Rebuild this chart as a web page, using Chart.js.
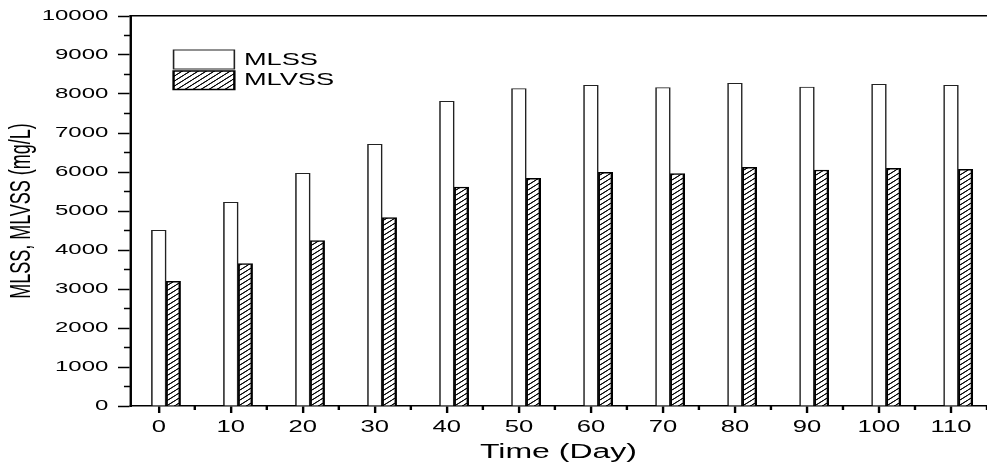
<!DOCTYPE html>
<html>
<head>
<meta charset="utf-8">
<script src="https://cdn.jsdelivr.net/npm/chart.js@4.4.0/dist/chart.umd.min.js"></script>
<style>
  html, body { margin: 0; padding: 0; background: #fff; }
  #wrap { width: 987px; height: 468px; overflow: hidden; }
  canvas { display: block; }
</style>
</head>
<body>
<div id="wrap"><canvas id="solidsChart" width="617" height="468"></canvas></div>
<script>
const days = [0, 10, 20, 30, 40, 50, 60, 70, 80, 90, 100, 110];
const mlss = [4505, 5223, 5966, 6710, 7813, 8136, 8222, 8165, 8274, 8180, 8248, 8222];
const mlvss = [3197, 3650, 4240, 4829, 5615, 5838, 5992, 5957, 6120, 6051, 6094, 6068];
const dayTicks = [0, 10, 20, 30, 40, 50, 60, 70, 80, 90, 100, 110];
const solidsTicks = [0, 1000, 2000, 3000, 4000, 5000, 6000, 7000, 8000, 9000, 10000];

// the source figure is stretched sideways, so lay out 617px wide and draw it 1.6x wider
const stretchX = 987 / 617;
const font = "'Liberation Sans', Arial, sans-serif";

function makeHatch() {
  const tile = document.createElement('canvas');
  tile.width = 8; tile.height = 5;
  const t = tile.getContext('2d');
  t.fillStyle = '#fff';
  t.fillRect(0, 0, 8, 5);
  t.strokeStyle = '#000';
  t.lineWidth = 1;
  t.beginPath();
  t.moveTo(-8, 10); t.lineTo(8, 0);
  t.moveTo(0, 5); t.lineTo(16, -5);
  t.moveTo(-8, 5); t.lineTo(8, -5);
  t.moveTo(0, 10); t.lineTo(16, 0);
  t.stroke();
  const p = t.createPattern(tile, 'repeat');
  p.setTransform(new DOMMatrix([1 / stretchX, 0, 0, 1, 0, 0]));
  return p;
}
const hatch = makeHatch();

const stretchPlugin = {
  id: 'stretch',
  afterInit(chart) {
    chart.canvas.width = 987;
    chart.canvas.style.width = '987px';
    chart.canvas.style.height = '468px';
    chart.ctx.setTransform(stretchX, 0, 0, 1, 0, 0);
  }
};

// minor ticks half way between the labelled ones, and the legend in the top left
const extrasPlugin = {
  id: 'extras',
  afterDraw(chart) {
    const ctx = chart.ctx;
    const xs = chart.scales.x, ys = chart.scales.y;
    const area = chart.chartArea;
    ctx.save();
    ctx.strokeStyle = '#000';
    ctx.lineWidth = 1.5;
    ctx.beginPath();
    for (let i = 0; i < dayTicks.length; i++) {
      const px = xs.getPixelForValue(dayTicks[i] + 5);
      if (px > area.right) continue;
      ctx.moveTo(px, area.bottom); ctx.lineTo(px, area.bottom + 4);
    }
    for (let i = 0; i < solidsTicks.length - 1; i++) {
      const py = ys.getPixelForValue(solidsTicks[i] + 500);
      ctx.moveTo(area.left, py); ctx.lineTo(area.left - 3.75, py);
    }
    ctx.stroke();

    const rows = [[50, 19], [71, 18.5]];
    chart.data.datasets.forEach(function(ds, i) {
      const y = rows[i][0], h = rows[i][1];
      ctx.fillStyle = ds.backgroundColor;
      ctx.fillRect(108.5, y, 38, h);
      ctx.strokeStyle = ds.borderColor;
      ctx.lineWidth = ds.borderWidth;
      ctx.strokeRect(108.5, y, 38, h);
      ctx.fillStyle = '#000';
      ctx.font = '17px ' + font;
      ctx.textBaseline = 'middle';
      ctx.textAlign = 'left';
      ctx.fillText(ds.label, 152.5, y + h / 2 + 0.5);
    });
    ctx.restore();
  }
};

const plainLabel = function(value) { return String(value); };

new Chart('solidsChart', {
  type: 'bar',
  data: {
    datasets: [{
      label: 'MLSS',
      data: days.map((d, i) => ({x: d, y: mlss[i]})),
      backgroundColor: '#fff',
      borderColor: '#222',
      borderWidth: 1,
      xAxisID: 'xBar'
    },
    {
      label: 'MLVSS',
      data: days.map((d, i) => ({x: d, y: mlvss[i]})),
      backgroundColor: hatch,
      borderColor: '#000',
      borderWidth: 1.5,
      xAxisID: 'xBar'
    }]
  },
  options: {
    responsive: false,
    maintainAspectRatio: false,
    animation: false,
    devicePixelRatio: 1,
    layout: { padding: { top: 16, right: 0, bottom: 0, left: 0 } },
    plugins: { legend: { display: false }, tooltip: { enabled: false } },
    datasets: { bar: { barThickness: 9 } },
    scales: {
      // bars sit on a hidden copy of the day axis shifted by one day,
      // so MLSS is centred on the tick and MLVSS stands to its right
      xBar: { type: 'linear', display: false, offset: false, min: -5, max: 114 },
      x: {
        type: 'linear',
        offset: false,
        min: -4,
        max: 115,
        afterBuildTicks: function(scale) { scale.ticks = dayTicks.map(v => ({value: v})); },
        afterFit: function(scale) { scale.height = 62; },
        grid: { offset: false, drawOnChartArea: false, tickLength: 7, tickWidth: 1.5, tickColor: '#000' },
        border: { color: '#000', width: 1.5 },
        ticks: { color: '#000', font: { family: font, size: 16 }, padding: 5, maxRotation: 0, autoSkip: false, callback: plainLabel },
        title: { display: true, text: 'Time (Day)', color: '#000', font: { family: font, size: 20 }, padding: { top: 0, bottom: 4 } }
      },
      xTop: {
        type: 'linear',
        position: 'top',
        offset: false,
        min: -4,
        max: 115,
        grid: { offset: false, drawOnChartArea: false, drawTicks: false },
        border: { color: '#000', width: 1.5 },
        ticks: { display: false }
      },
      y: {
        min: 0,
        max: 10000,
        afterBuildTicks: function(scale) { scale.ticks = solidsTicks.map(v => ({value: v})); },
        afterFit: function(scale) { scale.width = 81.25; },
        grid: { drawOnChartArea: false, tickLength: 7.5, tickWidth: 1.5, tickColor: '#000' },
        border: { color: '#000', width: 1.5 },
        ticks: { color: '#000', font: { family: font, size: 15 }, padding: 6, callback: plainLabel },
        title: { display: true, text: 'MLSS, MLVSS (mg/L)', color: '#000', font: { family: font, size: 18 }, padding: { top: 3, bottom: 0 } }
      }
    }
  },
  plugins: [stretchPlugin, extrasPlugin]
});
</script>
</body>
</html>
